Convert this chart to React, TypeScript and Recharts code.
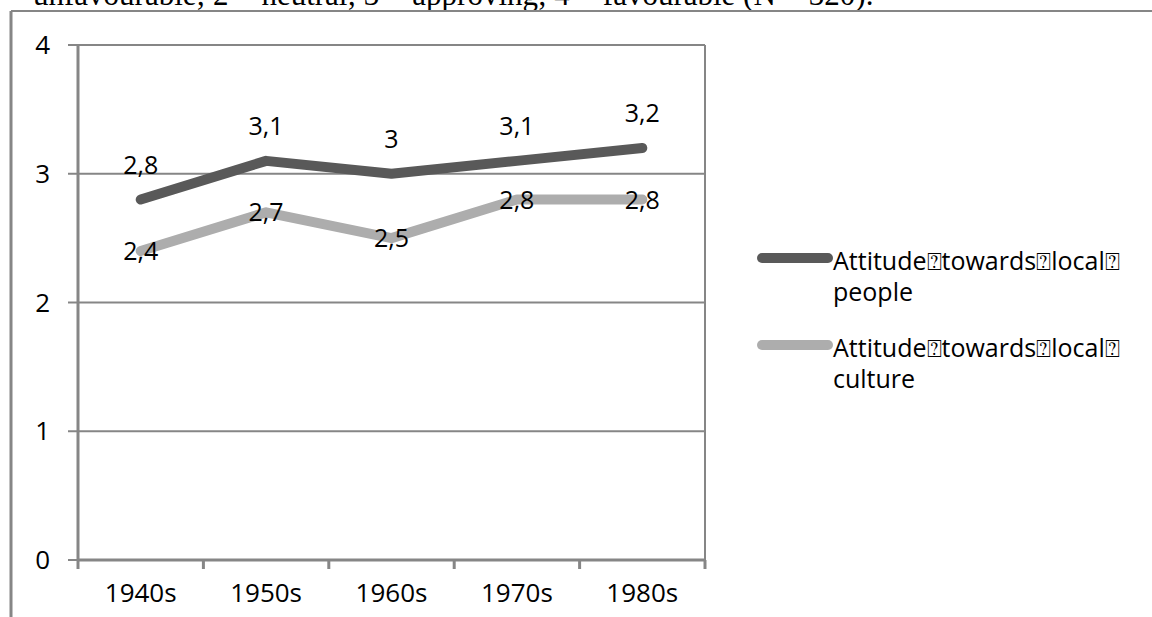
import { LineChart, Line, XAxis, YAxis, CartesianGrid, Legend, LabelList } from 'recharts';

const DECADES = ['1940s', '1950s', '1960s', '1970s', '1980s'];
const PEOPLE = [2.8, 3.1, 3.0, 3.1, 3.2];
const CULTURE = [2.4, 2.7, 2.5, 2.8, 2.8];
const Y_TICKS = [0, 1, 2, 3, 4];
const SERIES = [
  { key: 'people', name: 'Attitude\u2370towards\u2370local\u2370people', color: '#595959' },
  { key: 'culture', name: 'Attitude\u2370towards\u2370local\u2370culture', color: '#adadad' },
];
const CAPTION = 'unfavourable; 2 = neutral; 3 = approving; 4 = favourable (N = 320).';

const data = DECADES.map((decade, i) => ({ decade, people: PEOPLE[i], culture: CULTURE[i] }));

const W = 1152;
const H = 617;
const MARGIN = { top: 45, right: 447, bottom: 0, left: 0 };
const Y_W = 78;
const X_H = 57;
const GRID = '#868686';
const FONT = '"Open Sans", sans-serif';
// Excel-style category band: points sit in the middle, ticks on the edges
const BAND = (W - MARGIN.left - MARGIN.right - Y_W) / DECADES.length;

const fmt = (v: number) => String(v).replace('.', ',');

function XTick(props: any) {
  const { x, y, payload, index } = props;
  const last = index === DECADES.length - 1;
  return (
    <g>
      <line x1={x - BAND / 2} x2={x - BAND / 2} y1={y} y2={y + 9} stroke={GRID} strokeWidth={3} />
      {last && <line x1={x + BAND / 2} x2={x + BAND / 2} y1={y} y2={y + 9} stroke={GRID} strokeWidth={3} />}
      <text x={x} y={y + 42} textAnchor="middle" fontSize={26} fontFamily={FONT} fill="#000">
        {payload.value}
      </text>
    </g>
  );
}

const labelAbove = (props: any) => (
  <text x={props.x} y={props.y - 26} textAnchor="middle" fontSize={25} fontFamily={FONT} fill="#000">
    {fmt(props.value)}
  </text>
);

const labelOn = (props: any) => (
  <text x={props.x} y={props.y + 9} textAnchor="middle" fontSize={25} fontFamily={FONT} fill="#000">
    {fmt(props.value)}
  </text>
);

function LegendBox() {
  return (
    <svg width={392} height={170} style={{ display: 'block' }}>
      {SERIES.map((s, i) => {
        const cut = s.name.lastIndexOf('\u2370') + 1;
        const base = 35 + i * 87;
        return (
          <g key={s.key}>
            <line x1={6} x2={72} y1={base - 12} y2={base - 12} stroke={s.color} strokeWidth={10} strokeLinecap="round" />
            <text x={77} y={base} fontSize={25} fontFamily={FONT} fill="#000">{s.name.slice(0, cut)}</text>
            <text x={77} y={base + 31} fontSize={25} fontFamily={FONT} fill="#000">{s.name.slice(cut)}</text>
          </g>
        );
      })}
    </svg>
  );
}

export default function App() {
  return (
    <div style={{ position: 'absolute', left: 0, top: 0, width: W, height: H, overflow: 'hidden', background: '#fff' }}>
      <svg width={W} height={H} style={{ position: 'absolute', left: 0, top: 0 }}>
        <text x={33} y={5} fontSize={31} fontFamily='"Liberation Serif", serif' fill="#000">{CAPTION}</text>
        <line x1={11} x2={W} y1={11} y2={11} stroke={GRID} strokeWidth={2} />
        <line x1={11} x2={11} y1={11} y2={H} stroke={GRID} strokeWidth={3} />
      </svg>
      <LineChart width={W} height={H} data={data} margin={MARGIN} style={{ position: 'absolute', left: 0, top: 0 }}>
        <CartesianGrid
          stroke={GRID}
          strokeWidth={2}
          verticalCoordinatesGenerator={({ offset }: any) => [offset.left + offset.width]}
        />
        <XAxis
          dataKey="decade"
          height={X_H}
          padding={{ left: BAND / 2, right: BAND / 2 }}
          axisLine={{ stroke: GRID, strokeWidth: 3 }}
          tickLine={false}
          tickSize={0}
          tickMargin={0}
          tick={<XTick />}
          interval={0}
        />
        <YAxis
          width={Y_W}
          domain={[0, 4]}
          ticks={Y_TICKS}
          interval={0}
          axisLine={{ stroke: GRID, strokeWidth: 3 }}
          tickLine={{ stroke: GRID, strokeWidth: 2 }}
          tickSize={10}
          tickMargin={18}
          tick={{ fontSize: 26, fontFamily: FONT, fill: '#000' }}
        />
        <Legend
          layout="vertical"
          align="center"
          verticalAlign="middle"
          content={() => <LegendBox />}
          wrapperStyle={{ position: 'absolute', left: 756, top: 235, width: 392 }}
        />
        <Line
          dataKey="people"
          name={SERIES[0].name}
          stroke={SERIES[0].color}
          strokeWidth={10}
          strokeLinecap="round"
          strokeLinejoin="round"
          dot={false}
          activeDot={false}
          isAnimationActive={false}
        >
          <LabelList dataKey="people" content={labelAbove} />
        </Line>
        <Line
          dataKey="culture"
          name={SERIES[1].name}
          stroke={SERIES[1].color}
          strokeWidth={10}
          strokeLinecap="round"
          strokeLinejoin="round"
          dot={false}
          activeDot={false}
          isAnimationActive={false}
        >
          <LabelList dataKey="culture" content={labelOn} />
        </Line>
      </LineChart>
    </div>
  );
}
